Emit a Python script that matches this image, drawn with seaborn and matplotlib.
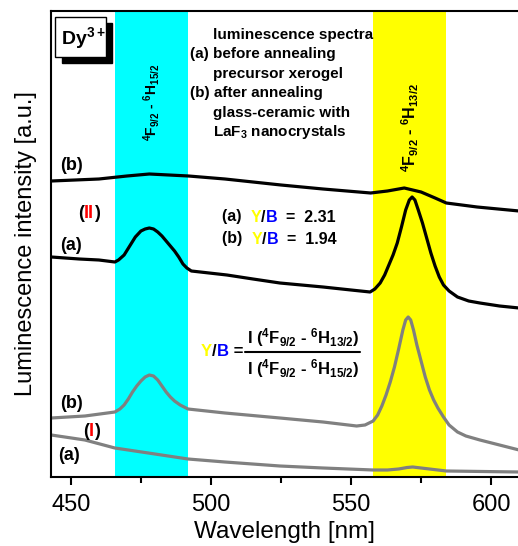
import numpy as np
import pandas as pd
import matplotlib
matplotlib.use('Agg')
import matplotlib.pyplot as plt
import seaborn as sns
from matplotlib.offsetbox import TextArea, HPacker, AnnotationBbox
from matplotlib.patches import Rectangle
from matplotlib.lines import Line2D

# (intensity in arbitrary units)
wl_IIb = [443, 460, 470, 478, 485, 492, 505, 525, 540, 557, 563, 569, 575, 580, 584, 595, 610]
I_IIb = [296, 298, 301, 303, 302, 301, 298, 292, 288, 284, 286, 289, 285, 279, 274, 270, 266]

wl_IIa = [443, 453, 460, 465.7, 467, 469, 471, 473, 475, 476.5, 478, 479.5, 481, 482.5, 484, 485.5,
          487, 488.5, 490, 491.4, 493, 505.7, 515, 524.6, 540, 550, 556.8, 558.5, 560.4, 562, 563.5,
          565, 566.5, 568, 569.5, 570.8, 571.8, 572.8, 574, 575.5, 577, 578.5, 580, 581.5, 583, 585,
          588, 592, 596, 603, 610]
I_IIa = [220, 218, 217, 215, 217, 222, 231, 240, 246, 248, 249, 248, 245, 241, 236, 231,
         226, 220, 213, 209, 206, 202, 198, 194, 190, 187, 185, 188, 194, 202, 212,
         222, 234, 250, 267, 277, 280, 277, 267, 254, 239, 224, 211, 200, 192, 186,
         180, 176, 174, 171, 169]

wl_Ib = [443, 455, 465.7, 467.5, 469, 470.5, 472, 473.5, 475, 476.5, 478, 479.5, 481, 482.5, 484,
         485.5, 487, 489, 491.8, 505, 524.6, 540, 552, 555, 557.9, 559.5, 561, 562.5, 564, 565.5,
         567, 568.5, 569.5, 570.4, 571.3, 572.3, 573.5, 575, 576.5, 578, 579.5, 581, 583, 585,
         588, 591, 596, 603, 610]
I_Ib = [59, 61, 65, 68, 72, 78, 85, 91, 96, 100, 102, 101, 97, 91, 85,
        80, 76, 72, 68, 64, 59, 55, 51, 52, 56, 62, 71, 82, 95, 110,
        128, 147, 157, 160, 157, 147, 132, 116, 100, 87, 77, 69, 60, 52,
        45, 41, 37, 32, 27]

wl_Ia = [443, 455, 465.7, 480, 491.8, 505, 524.6, 540, 557.9, 563, 567, 570, 572, 575, 578, 584, 610]
I_Ia = [42, 37, 29, 23, 18, 15, 11, 9, 7, 7, 8, 9.5, 10, 9, 8, 6, 5]

blue_band = (465.7, 491.8)
yellow_band = (557.9, 584.0)
xticks = [450, 500, 550, 600]
minor_xticks = [475, 525, 575]

sns.set_style('ticks')
plt.rcParams['font.family'] = ['Liberation Sans', 'DejaVu Sans']
plt.rcParams['text.color'] = 'black'
plt.rcParams['axes.labelcolor'] = 'black'
plt.rcParams['xtick.color'] = 'black'
plt.rcParams['axes.edgecolor'] = 'black'
plt.rcParams['mathtext.fontset'] = 'custom'
plt.rcParams['mathtext.rm'] = 'Liberation Sans:bold'
plt.rcParams['mathtext.it'] = 'Liberation Sans:bold'
plt.rcParams['mathtext.bf'] = 'Liberation Sans:bold'

W, H = 518, 546
fig = plt.figure(figsize=(W / 100, H / 100), dpi=100)
ax = fig.add_axes([51 / W, 69 / H, 467 / W, 466 / H])

ax.axvspan(*blue_band, color='#00ffff', lw=0, zorder=0)
ax.axvspan(*yellow_band, color='#ffff00', lw=0, zorder=0)

curves = [(wl_IIb, I_IIb, 'black'), (wl_IIa, I_IIa, 'black'),
          (wl_Ib, I_Ib, '#808080'), (wl_Ia, I_Ia, '#808080')]
for x, y, c in curves:
    df = pd.DataFrame({'wl': x, 'I': y})
    sns.lineplot(data=df, x='wl', y='I', color=c, lw=2.3, ax=ax,
                 solid_joinstyle='round', solid_capstyle='round')

ax.set_xlim(442.9, 609.6)
ax.set_ylim(0, 466)
ax.set_xticks(xticks)
ax.set_xticks(minor_xticks, minor=True)
ax.set_yticks([])
ax.tick_params(axis='x', which='major', length=6, width=1.5, labelsize=17, pad=6)
ax.tick_params(axis='x', which='minor', length=4, width=1.5)
for s in ['left', 'bottom', 'top']:
    ax.spines[s].set_linewidth(1.5)
ax.spines['right'].set_visible(False)
ax.set_xlabel('Wavelength [nm]', fontsize=17.5, labelpad=4)
ax.set_ylabel('Luminescence intensity [a.u.]', fontsize=17, labelpad=10)


def ptext(x, y, s, **kw):
    fig.text(x / W, 1 - y / H, s, **kw)


def ctext(x, y, parts, size):
    boxes = [TextArea(t, textprops=dict(color=c, fontsize=size, fontweight='bold')) for t, c in parts]
    pack = HPacker(children=boxes, pad=0, sep=0)
    ab = AnnotationBbox(pack, (x, H - y), xycoords='figure pixels', box_alignment=(0, 0.5),
                        frameon=False, pad=0)
    fig.add_artist(ab)


# Dy3+ box with shadow
fig.add_artist(Rectangle((62 / W, 1 - 63 / H), 50 / W, 40 / H, transform=fig.transFigure,
                         facecolor='black', edgecolor='black'))
fig.add_artist(Rectangle((55 / W, 1 - 57 / H), 51 / W, 40 / H, transform=fig.transFigure,
                         facecolor='white', edgecolor='black', lw=1))
ptext(61, 38, r'$\mathrm{Dy}^{3+}$', fontsize=14, va='center', ha='left')

# description
legend_lines = [(213, 35, 'luminescence spectra'), (190, 54, '(a) before annealing'),
                (213, 74, 'precursor xerogel'), (190, 93, '(b) after annealing'),
                (213, 113, 'glass-ceramic with'), (213, 132, r'LaF$_3$ nanocrystals')]
for x, y, s in legend_lines:
    ptext(x, y, s, fontsize=11, fontweight='bold', va='center', ha='left')

# transitions
ptext(151, 102, r'$^4$F$_{9/2}$ - $^6$H$_{15/2}$', fontsize=10, fontweight='bold',
      rotation=90, va='center', ha='center')
ptext(410, 128, r'$^4$F$_{9/2}$ - $^6$H$_{13/2}$', fontsize=11.5, fontweight='bold',
      rotation=90, va='center', ha='center')

# curve labels
ptext(60, 166, '(b)', fontsize=13, fontweight='bold', va='center', ha='left')
ctext(78, 213, [('(', 'black'), ('II', 'red'), (')', 'black')], 13)
ptext(60, 245, '(a)', fontsize=13, fontweight='bold', va='center', ha='left')
ptext(60, 403, '(b)', fontsize=13, fontweight='bold', va='center', ha='left')
ctext(83, 431, [('(', 'black'), ('I', 'red'), (')', 'black')], 13)
ptext(58, 456, '(a)', fontsize=13, fontweight='bold', va='center', ha='left')

# ratios
ctext(222, 217, [('(a)  ', 'black'), ('Y', '#ffff00'), ('/', 'black'), ('B', '#0000ff'),
                 ('  =  2.31', 'black')], 11.5)
ctext(222, 239, [('(b)  ', 'black'), ('Y', '#ffff00'), ('/', 'black'), ('B', '#0000ff'),
                 ('  =  1.94', 'black')], 11.5)

ctext(201, 352, [('Y', '#ffff00'), ('/', 'black'), ('B', '#0000ff'), (' =', 'black')], 12)
fig.add_artist(Line2D([245 / W, 360 / W], [1 - 352 / H, 1 - 352 / H], transform=fig.transFigure,
                      color='black', lw=1.5))
ptext(303, 338, r'I ($^4$F$_{9/2}$ - $^6$H$_{13/2}$)', fontsize=12, fontweight='bold',
      va='center', ha='center')
ptext(303, 369, r'I ($^4$F$_{9/2}$ - $^6$H$_{15/2}$)', fontsize=12, fontweight='bold',
      va='center', ha='center')

fig.savefig('out.png', dpi=100)
